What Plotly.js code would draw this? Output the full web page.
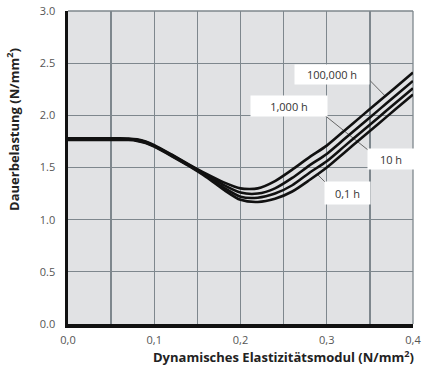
<!DOCTYPE html>
<html>
<head>
<meta charset="utf-8">
<script src="https://cdn.plot.ly/plotly-3.0.1.min.js"></script>
<style>html,body{margin:0;padding:0;background:#fff;}#chart{width:427px;height:369px;}</style>
</head>
<body>
<div id="chart"></div>
<script>
// Data
const xVals = [0, 0.03, 0.06, 0.07, 0.08, 0.09, 0.10, 0.12, 0.14, 0.16, 0.18, 0.20, 0.22, 0.24, 0.26, 0.28, 0.30, 0.32, 0.34, 0.36, 0.38, 0.40];
const h100000 = [1.78, 1.78, 1.78, 1.778, 1.77, 1.75, 1.715, 1.625, 1.53, 1.44, 1.36, 1.30, 1.30, 1.37, 1.48, 1.60, 1.71, 1.85, 1.99, 2.13, 2.27, 2.41];
const h1000   = [1.775, 1.775, 1.775, 1.773, 1.765, 1.745, 1.71, 1.62, 1.525, 1.43, 1.335, 1.26, 1.25, 1.30, 1.40, 1.52, 1.63, 1.77, 1.91, 2.05, 2.19, 2.33];
const h10     = [1.77, 1.77, 1.77, 1.768, 1.76, 1.74, 1.705, 1.615, 1.52, 1.42, 1.31, 1.22, 1.21, 1.25, 1.33, 1.45, 1.56, 1.70, 1.84, 1.98, 2.12, 2.26];
const h01     = [1.765, 1.765, 1.765, 1.763, 1.755, 1.735, 1.70, 1.61, 1.515, 1.41, 1.29, 1.19, 1.17, 1.20, 1.27, 1.38, 1.50, 1.64, 1.78, 1.92, 2.06, 2.20];
const seriesNames = ['100,000 h', '1,000 h', '10 h', '0,1 h'];
const xTickVals = [0, 0.1, 0.2, 0.3, 0.4];
const xTickText = ['0,0', '0,1', '0,2', '0,3', '0,4'];
const yTickVals = [0, 0.5, 1.0, 1.5, 2.0, 2.5, 3.0];
const yTickText = ['0.0', '0.5', '1.0', '1.5', '2.0', '2.5', '3.0'];

const allSeries = [h100000, h1000, h10, h01];
const traces = allSeries.map((ys, i) => ({
  x: xVals, y: ys, name: seriesNames[i], type: 'scatter', mode: 'lines',
  line: {color: '#111', width: 2.6, shape: 'spline', smoothing: 0.7},
  hoverinfo: 'skip', showlegend: false
}));

const labelFont = {family: 'Open Sans, sans-serif', size: 11, color: '#333'};
function label(text, x, y, w, h) {
  return {text: text, x: x, y: y, xref: 'x', yref: 'y', showarrow: false,
    bgcolor: '#ffffff', width: w, height: h, font: labelFont, align: 'center', valign: 'middle'};
}
function leader(x0, y0, x1, y1) {
  return {type: 'line', xref: 'x', yref: 'y', x0: x0, y0: y0, x1: x1, y1: y1,
    line: {color: '#666', width: 1}, layer: 'between'};
}
const gridCol = '#7e878d';

const layout = {
  width: 427, height: 369,
  margin: {l: 68, r: 14, t: 11, b: 45},
  paper_bgcolor: '#ffffff', plot_bgcolor: '#e1e2e4',
  font: {family: 'Open Sans, sans-serif', size: 11, color: '#555'},
  xaxis: {
    range: [0, 0.4], tickvals: xTickVals, ticktext: xTickText,
    showgrid: true, gridcolor: gridCol, gridwidth: 1.3, zeroline: false,
    minor: {dtick: 0.05, tick0: 0, showgrid: true, gridcolor: gridCol, gridwidth: 1.3, ticks: ''},
    showline: true, linecolor: '#111', linewidth: 3.5, ticks: '', ticklabelstandoff: 3,
    tickfont: {family: 'Open Sans, sans-serif', size: 11, color: '#555'}
  },
  yaxis: {
    range: [0, 3.0], tickvals: yTickVals, ticktext: yTickText,
    showgrid: true, gridcolor: gridCol, gridwidth: 1.3, zeroline: false,
    showline: true, linecolor: '#111', linewidth: 3.5, ticks: '', ticklabelstandoff: 7,
    tickfont: {family: 'Open Sans, sans-serif', size: 11, color: '#555'}
  },
  shapes: [
    leader(0.3495, 2.339, 0.3687, 2.177),
    leader(0.2957, 2.013, 0.3490, 1.660),
    leader(0.2887, 1.438, 0.3003, 1.342),
    {type: 'line', xref: 'paper', yref: 'paper', x0: 0, x1: 1, y0: 1, y1: 1, line: {color: gridCol, width: 1.3}, layer: 'between'},
    {type: 'line', xref: 'paper', yref: 'paper', x0: 1, x1: 1, y0: 0, y1: 1, line: {color: gridCol, width: 1.3}, layer: 'between'}
  ],
  annotations: [
    label(seriesNames[0], 0.3060, 2.395, 72, 17),
    label(seriesNames[1], 0.2562, 2.090, 74, 18),
    label(seriesNames[2], 0.3745, 1.582, 44, 18),
    label(seriesNames[3], 0.3240, 1.256, 43, 20),
    {text: 'Dynamisches Elastizitätsmodul (N/mm<sup>2</sup>)', xref: 'paper', yref: 'paper',
      x: 1.01, y: 0, xanchor: 'right', yanchor: 'top', yshift: -21, showarrow: false,
      font: {family: 'Open Sans, sans-serif', size: 13, color: '#222', weight: 'bold'}},
    {text: 'Dauerbelastung (N/mm<sup>2</sup>)', xref: 'paper', yref: 'paper',
      x: 0, y: 0.62, xshift: -55, xanchor: 'center', yanchor: 'middle', textangle: -90, showarrow: false,
      font: {family: 'Open Sans, sans-serif', size: 13, color: '#222', weight: 'bold'}}
  ]
};

Plotly.newPlot('chart', traces, layout, {staticPlot: true, displayModeBar: false});
</script>
</body>
</html>
